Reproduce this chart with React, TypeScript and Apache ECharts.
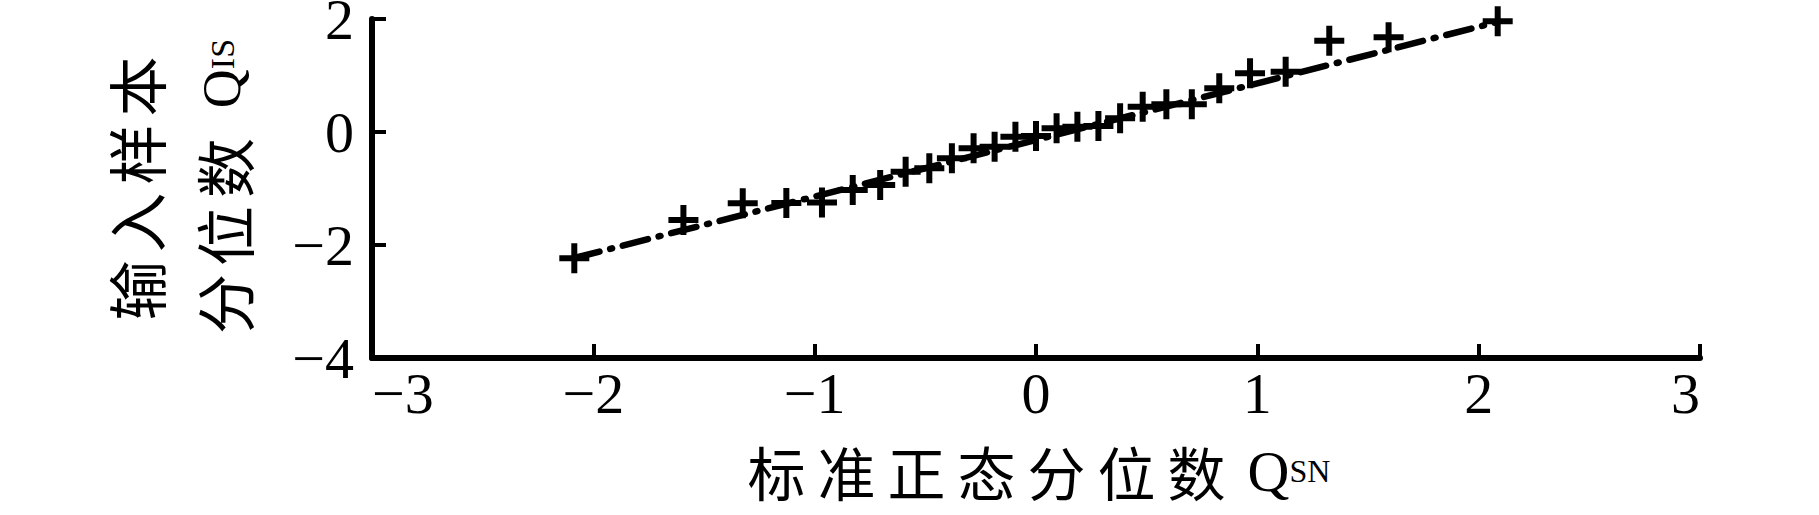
import React, { useEffect, useRef } from "react";
import * as echarts from "echarts";

// Theoretical standard-normal quantiles (x) and sorted sample quantiles (y)
const normalQuantiles = [
  -2.086, -1.593, -1.325, -1.128, -0.967, -0.828, -0.704, -0.589, -0.482,
  -0.38, -0.282, -0.187, -0.093, 0, 0.093, 0.187, 0.282, 0.38, 0.482, 0.589,
  0.704, 0.828, 0.967, 1.128, 1.325, 1.593, 2.086,
];
const sampleQuantiles = [
  -2.235, -1.558, -1.262, -1.255, -1.248, -1.027, -0.938, -0.702, -0.643,
  -0.466, -0.289, -0.26, -0.083, -0.071, 0.065, 0.094, 0.106, 0.242, 0.448,
  0.49, 0.49, 0.773, 1.039, 1.067, 1.616, 1.676, 1.959,
];
// Reference line end points
const refLineX = [-2.086, 2.086];
const refLineY = [-2.23, 1.95];

const xTicks = { min: -3, max: 3, interval: 1 };
const yTicks = { min: -4, max: 2, interval: 2 };

const xName = "标准正态分位数";
const yNameLine1 = "输入样本";
const yNameLine2 = "分位数";

const SERIF = "'Liberation Serif', 'Times New Roman', serif";
const CJK = "'Noto Sans CJK SC', sans-serif";
const PLUS = "path://M12,0H18V12H30V18H18V30H12V18H0V12H12Z";

const fmt = (v: number) => (v < 0 ? "\u2212" + Math.abs(v) : String(v));
const richChars = (s: string, key: string) =>
  s
    .split("")
    .map((ch) => `{${key}|${ch}}`)
    .join("");

export default function App() {
  const ref = useRef<HTMLDivElement>(null);
  useEffect(() => {
    if (!ref.current) return;
    const chart = echarts.init(ref.current, null, { renderer: "svg" });
    const scatterData = normalQuantiles.map((x, i) => [x, sampleQuantiles[i]]);
    const lineData = refLineX.map((x, i) => [x, refLineY[i]]);
    chart.setOption({
      animation: false,
      backgroundColor: "#ffffff",
      grid: {
        left: 372,
        right: 119,
        top: 19,
        bottom: 157,
        containLabel: false,
        outerBoundsMode: "none",
      },
      xAxis: {
        type: "value",
        min: xTicks.min,
        max: xTicks.max,
        interval: xTicks.interval,
        splitLine: { show: false },
        axisLine: {
          show: true,
          onZero: false,
          lineStyle: { color: "#000", width: 6, cap: "round" },
        },
        axisTick: {
          show: true,
          inside: true,
          length: 14,
          lineStyle: { color: "#000", width: 4 },
        },
        axisLabel: {
          color: "#000",
          fontFamily: SERIF,
          fontSize: 58,
          lineHeight: 36,
          margin: 17,
          formatter: fmt,
          alignMinLabel: "left",
          alignMaxLabel: "right",
        },
        name: richChars(xName, "c") + "{sp| }{q|Q}{s|SN}",
        nameLocation: "middle",
        nameGap: 84,
        nameTextStyle: {
          lineHeight: 58,
          rich: {
            c: { fontFamily: CJK, fontSize: 58, lineHeight: 58, color: "#000", padding: [0, 6, 0, 6] },
            sp: { fontFamily: SERIF, fontSize: 40, lineHeight: 58, width: 16 },
            q: { fontFamily: SERIF, fontSize: 58, lineHeight: 58, color: "#000" },
            s: { fontFamily: SERIF, fontSize: 32, lineHeight: 58, color: "#000" },
          },
        },
      },
      yAxis: {
        type: "value",
        min: yTicks.min,
        max: yTicks.max,
        interval: yTicks.interval,
        splitLine: { show: false },
        axisLine: {
          show: true,
          onZero: false,
          lineStyle: { color: "#000", width: 6, cap: "round" },
        },
        axisTick: {
          show: true,
          inside: true,
          length: 14,
          lineStyle: { color: "#000", width: 4 },
        },
        axisLabel: {
          color: "#000",
          fontFamily: SERIF,
          fontSize: 58,
          lineHeight: 36,
          margin: 18,
          padding: [9, 0, 0, 0],
          formatter: fmt,
        },
        name:
          richChars(yNameLine1, "c") +
          "\n" +
          richChars(yNameLine2, "c") +
          "{sp| }{q|Q}{s|IS}",
        nameLocation: "middle",
        nameRotate: 90,
        nameGap: 106,
        nameTextStyle: {
          lineHeight: 88,
          rich: {
            c: { fontFamily: CJK, fontSize: 60, color: "#000", lineHeight: 88, padding: [0, 4, 0, 4] },
            sp: { fontFamily: SERIF, fontSize: 40, lineHeight: 88, width: 26 },
            q: { fontFamily: SERIF, fontSize: 54, lineHeight: 88, color: "#000" },
            s: { fontFamily: SERIF, fontSize: 34, lineHeight: 88, color: "#000" },
          },
        },
      },
      series: [
        {
          type: "line",
          data: lineData,
          showSymbol: false,
          symbol: "none",
          lineStyle: {
            color: "#000",
            width: 6.5,
            type: [26, 11, 2, 11],
            cap: "round",
          },
          z: 2,
        },
        {
          type: "scatter",
          data: scatterData,
          symbol: PLUS,
          symbolSize: 30,
          itemStyle: { color: "#000", opacity: 1 },
          z: 3,
        },
      ],
    });
    return () => chart.dispose();
  }, []);
  return (
    <div
      ref={ref}
      style={{ position: "absolute", left: 0, top: 0, width: 1819, height: 515, background: "#fff" }}
    />
  );
}
